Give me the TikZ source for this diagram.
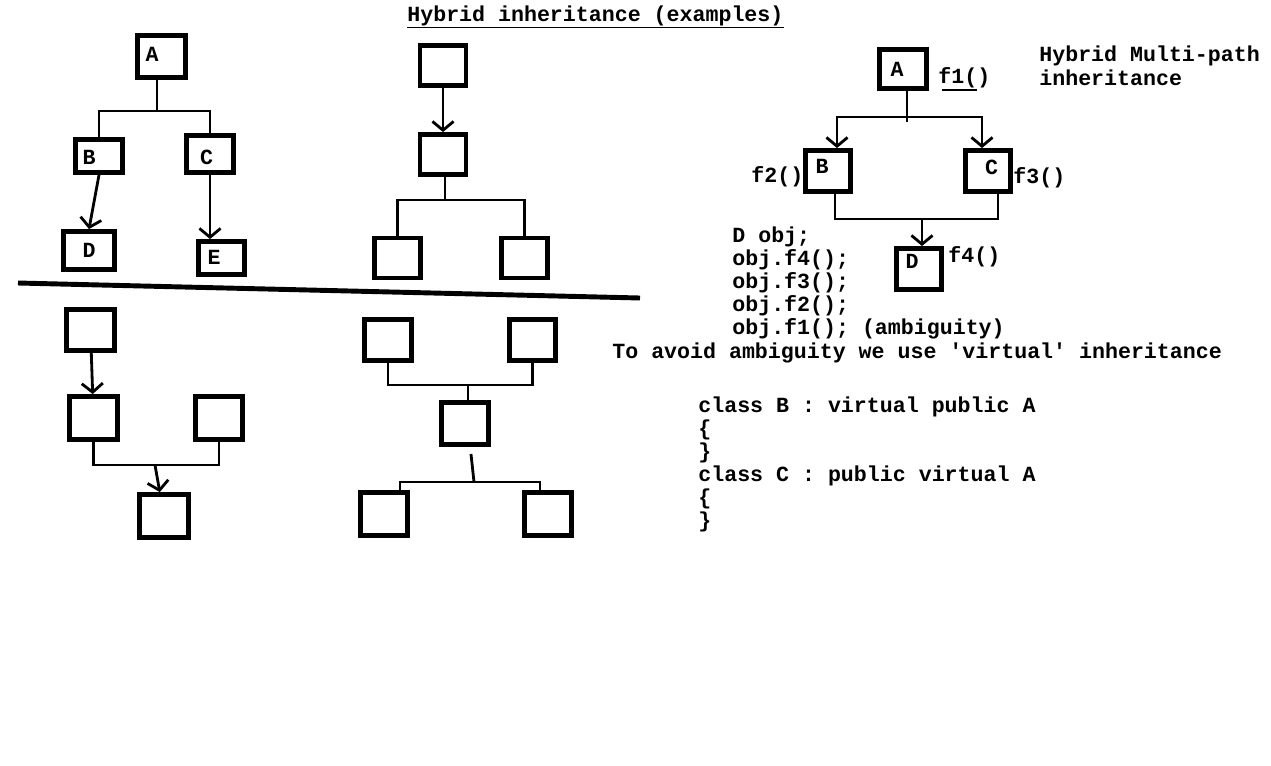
\documentclass[tikz,border=0pt]{standalone}
\usepackage{fontspec}
\newfontfamily\codefont{Liberation Mono}
\usetikzlibrary{arrows.meta}
\tikzset{
  box/.style={draw, line width=2.8pt, inner sep=0pt, minimum width=0.94cm, minimum height=0.84cm},
  lbl/.style={font=\codefont\bfseries\fontsize{12.3}{14}\selectfont, inner sep=0pt, anchor=base},
  txt/.style={font=\codefont\bfseries\fontsize{12.3}{14}\selectfont, inner sep=0pt, anchor=base west},
  wire/.style={line width=1.6pt},
  arr/.style={wire, -{Straight Barb[length=5pt,width=12pt]}},
}
\begin{document}
\begin{tikzpicture}[x=0.02cm, y=-0.02cm]
  \path[fill=white] (0,0) rectangle (1271,765);
  % title
  \node[txt] (title) at (407,21) {Hybrid inheritance (examples)};
  \draw[line width=0.6pt] ([yshift=-0.04cm]title.south west) -- ([yshift=-0.04cm]title.south east);
  % upper left tree
  \node[box, minimum width=0.96cm] (lA) at (161.5,56.5) {};
  \node[box, minimum height=0.66cm] (lB) at (99,156) {};
  \node[box, minimum height=0.74cm] (lC) at (210,154) {};
  \node[box, minimum width=1.02cm, minimum height=0.76cm] (lD) at (89,250.5) {};
  \node[box, minimum width=0.92cm, minimum height=0.66cm] (lE) at (221.5,258) {};
  \node[lbl] at (152,61) {A};
  \node[lbl] at (89,164) {B};
  \node[lbl] at (206.5,164) {C};
  \node[lbl] at (89,257) {D};
  \node[lbl] at (214,264) {E};
  \coordinate (l1) at (157,111);
  \draw[wire] (lA.south -| l1) -- (l1) -| (lB.north);
  \draw[wire] (l1) -| (lC.north);
  \draw[arr] (lB.south) -- (lD.north);
  \draw[arr] (lC.south) -- (lC.south |- lE.north);
  % upper middle tree
  \node[box, minimum width=0.92cm, minimum height=0.8cm] (mA) at (443,65.5) {};
  \node[box, minimum width=0.92cm, minimum height=0.8cm] (mB) at (443,154.5) {};
  \node[box, minimum width=0.92cm, minimum height=0.8cm] (mC) at (397.5,258) {};
  \node[box, minimum width=0.92cm, minimum height=0.8cm] (mD) at (524.5,258) {};
  \coordinate (m1) at (445,200);
  \draw[arr] (mA) -- (mB);
  \draw[wire] (mB.south -| m1) -- (m1) -| (mC.north);
  \draw[wire] (m1) -| (mD.north);
  % separator
  \draw[line width=2.8pt] (18,283) -- (640,298);
  % lower left tree
  \node[box, minimum width=0.96cm, minimum height=0.82cm] (bA) at (90.5,330) {};
  \node[box, minimum width=0.96cm, minimum height=0.86cm] (bB) at (93.5,418) {};
  \node[box, minimum height=0.86cm] (bC) at (219,418) {};
  \node[box, minimum width=0.98cm, minimum height=0.86cm] (bD) at (164,516) {};
  \coordinate (b1) at (155,465);
  \draw[arr] (bA) -- (bB);
  \draw[wire] (bB.south) |- (b1) -| (bC.south);
  \draw[arr] (b1) -- (bD);
  % lower middle tree
  \node[box, minimum height=0.82cm] (qA) at (388,340) {};
  \node[box, minimum width=0.92cm, minimum height=0.82cm] (qB) at (532.5,340) {};
  \node[box] (qC) at (465,423.5) {};
  \node[box, minimum height=0.86cm] (qD) at (384,514) {};
  \node[box, minimum height=0.86cm] (qE) at (548,514) {};
  \coordinate (q1) at (468,385);
  \coordinate (q2) at (474,482);
  \coordinate (q3) at (471,454);
  \draw[wire] (qA.south) |- (q1) -| (qB.south);
  \draw[wire] (q1) -- (q1 |- qC.north);
  \draw[wire] (q3) -- (q2);
  \draw[wire] ([xshift=0.32cm]qD.north) |- (q2) -| ([xshift=-0.16cm]qE.north);
  % multi-path
  \node[box, minimum height=0.78cm] (rA) at (903,69) {};
  \node[box, minimum width=0.9cm, minimum height=0.82cm] (rB) at (828,171) {};
  \node[box, minimum width=0.9cm, minimum height=0.82cm] (rC) at (988,171) {};
  \node[box, minimum width=0.9cm, minimum height=0.82cm] (rD) at (919,269) {};
  \node[lbl] at (897,76) {A};
  \node[lbl] at (822,173) {B};
  \node[lbl] at (991.5,174) {C};
  \node[lbl] at (912,268) {D};
  \node[txt] (f1) at (938,83) {f1()};
  \draw[line width=1.1pt] (942,90) -- (977,90);
  \node[txt] (f2) at (751,182) {f2()};
  \node[txt] (f3) at (1013,183) {f3()};
  \node[txt] (f4) at (948,262) {f4()};
  \node[txt] (hyb1) at (1039,61) {Hybrid Multi-path};
  \node[txt] (hyb2) at (1039,85) {inheritance};
  \coordinate (r0) at (907,122);
  \coordinate (r1) at (907,117);
  \coordinate (r2) at (922,219);
  \draw[wire] (rA.south -| r0) -- (r0);
  \draw[arr] (r1) -| ([xshift=0.18cm]rB.north);
  \draw[arr] (r1) -| ([xshift=-0.12cm]rC.north);
  \draw[wire] ([xshift=0.14cm]rB.south) |- (r2) -| ([xshift=0.2cm]rC.south);
  \draw[arr] (r2) -- (r2 |- rD.north);
  % code
  \node[txt] (c1) at (732,242) {D obj;};
  \node[txt] (c2) at (732,265) {obj.f4();};
  \node[txt] (c3) at (732,288) {obj.f3();};
  \node[txt] (c4) at (732,311) {obj.f2();};
  \node[txt] (c5) at (732,334) {obj.f1(); (ambiguity)};
  \node[txt] (note) at (612,358) {To avoid ambiguity we use \textquotesingle virtual\textquotesingle{} inheritance};
  \node[txt] (k1) at (698,412) {class B : virtual public A};
  \node[txt] (k2) at (698,435) {\{};
  \node[txt] (k3) at (698,458) {\}};
  \node[txt] (k4) at (698,481) {class C : public virtual A};
  \node[txt] (k5) at (698,504) {\{};
  \node[txt] (k6) at (698,527) {\}};
\end{tikzpicture}
\end{document}
